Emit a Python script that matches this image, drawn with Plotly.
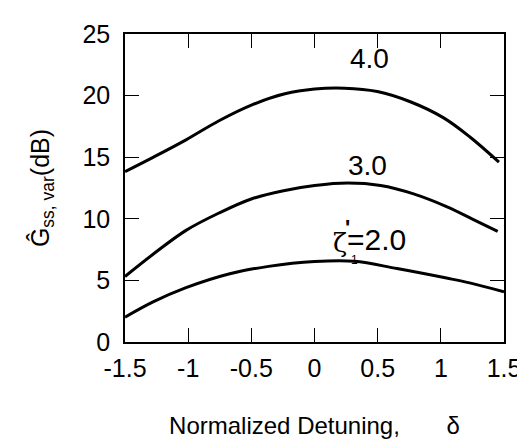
import plotly.graph_objects as go

# Data
x_40 = [-1.5, -1.278, -1.017, -0.756, -0.495, -0.234, 0.001, 0.236, 0.497, 0.758, 1.019, 1.228, 1.46]
y_40 = [13.83, 14.99, 16.41, 17.96, 19.25, 20.15, 20.53, 20.6, 20.33, 19.5, 18.21, 16.66, 14.6]

x_30 = [-1.5, -1.278, -1.017, -0.756, -0.495, -0.234, 0.001, 0.262, 0.523, 0.784, 1.045, 1.254, 1.45]
y_30 = [5.32, 7.12, 9.06, 10.47, 11.63, 12.3, 12.7, 12.9, 12.7, 12.02, 10.99, 9.96, 8.98]

x_20 = [-1.5, -1.278, -1.017, -0.678, -0.364, 0.001, 0.314, 0.653, 1.045, 1.228, 1.5]
y_20 = [2.01, 3.25, 4.41, 5.52, 6.14, 6.53, 6.55, 5.96, 5.19, 4.8, 4.08]

x_tickvals = [-1.5, -1, -0.5, 0, 0.5, 1, 1.5]
x_ticktext = ["-1.5", "-1", "-0.5", "0", "0.5", "1", "1.5"]
y_tickvals = [0, 5, 10, 15, 20, 25]
y_ticktext = ["0", "5", "10", "15", "20", "25"]
x_range = [-1.5, 1.5]
y_range = [0, 25]

line_style = dict(color="black", width=3, shape="spline", smoothing=1.0)

fig = go.Figure()
for xs, ys, nm in [(x_40, y_40, "4.0"), (x_30, y_30, "3.0"), (x_20, y_20, "2.0")]:
    fig.add_trace(go.Scatter(x=xs, y=ys, mode="lines", line=line_style, name=nm, showlegend=False))

FONT = "Liberation Sans, Arial, sans-serif"

axis_common = dict(
    showline=True, linecolor="black", linewidth=1.5, mirror="ticks",
    ticks="inside", ticklen=14, tickwidth=1.2, tickcolor="black",
    showgrid=False, zeroline=False,
    tickfont=dict(family=FONT, size=25, color="black"),
)

NB = "\u00a0"
fig.update_xaxes(
    range=x_range, tickvals=x_tickvals, ticktext=x_ticktext,
    title=dict(text="Normalized Detuning," + NB * 7 + "δ" + NB * 6,
               font=dict(family=FONT, size=24, color="black"), standoff=36),
    ticklabelstandoff=3,
    **axis_common,
)
fig.update_yaxes(
    range=y_range, tickvals=y_tickvals, ticktext=y_ticktext,
    title=dict(text=NB * 3 + "Ĝ<sub>ss, var</sub>(dB)",
               font=dict(family=FONT, size=25, color="black"), standoff=26),
    ticklabelstandoff=8,
    **axis_common,
)

lab_font = dict(family=FONT, size=28, color="black")
fig.add_annotation(x=0.434, y=23.0, text="4.0", showarrow=False, font=lab_font)
fig.add_annotation(x=0.418, y=14.35, text="3.0", showarrow=False, font=lab_font)
fig.add_annotation(x=0.24, y=8.34, text="=2.0", showarrow=False,
                   font=dict(family=FONT, size=30, color="black"), xanchor="left")
fig.add_annotation(x=0.199, y=8.02, text="ζ", showarrow=False,
                   font=dict(family="DejaVu Serif, serif", size=26, color="black"))
fig.add_annotation(x=0.262, y=9.3, text="<b>'</b>", showarrow=False,
                   font=dict(family=FONT, size=22, color="black"))
fig.add_annotation(x=0.317, y=6.67, text="1", showarrow=False,
                   font=dict(family=FONT, size=12, color="black"))

# the page body keeps an 8px default margin, so left/bottom margins are shifted by 8px
fig.update_layout(
    width=525, height=445,
    margin=dict(l=117, r=25, t=19, b=111),
    paper_bgcolor="white", plot_bgcolor="white",
    font=dict(family=FONT, color="black"),
)

fig.write_html("out.html")
